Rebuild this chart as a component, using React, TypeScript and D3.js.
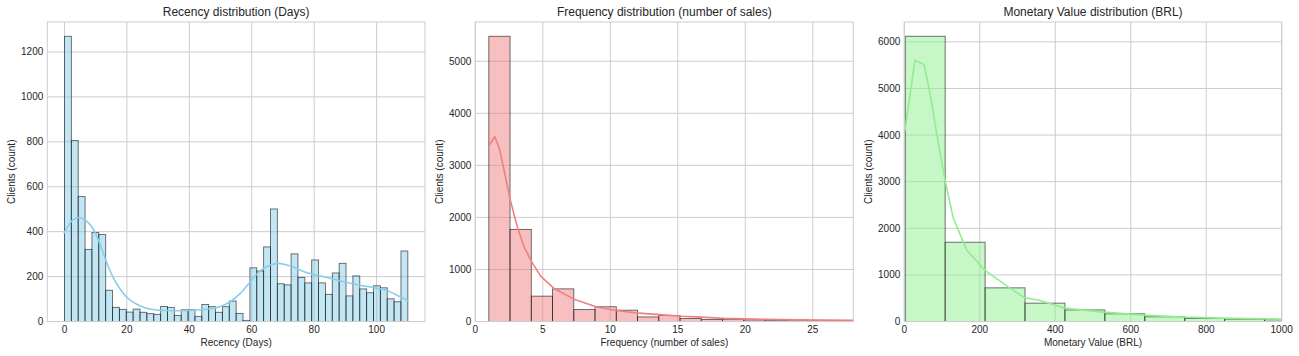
import React from "react";
import * as d3 from "d3";

// ---------- Data ----------
const recencyBinStart = 0;
const recencyBinWidth = 2.2;
const recencyCounts = [
  1270, 806, 556, 321, 396, 387, 139, 63, 54, 42,
  55, 41, 35, 32, 67, 63, 27, 52, 52, 23,
  76, 66, 41, 66, 91, 36, 5, 239, 225, 332,
  501, 168, 163, 301, 196, 172, 274, 172, 121, 216,
  259, 114, 203, 145, 128, 159, 150, 101, 88, 314,
];
const recencyKdeX = [-0.2, 2.1, 4.6, 7.0, 9.1, 11.3, 13.4, 15.5, 17.7, 19.8, 23.0, 26.3, 30.5, 35.9, 41.2, 46.6, 49.8, 53.1, 56.3, 59.5, 62.7, 65.9, 68.6, 72.3, 77.7, 83.1, 88.4, 93.8, 99.1, 103.4, 106.7, 110.2];
const recencyKdeY = [392, 444, 463, 448, 414, 348, 266, 199, 147, 110, 78, 59, 50, 48, 50, 57, 66, 88, 125, 177, 226, 252, 259, 247, 217, 199, 181, 164, 150, 137, 116, 91];

const freqBinStart = 1;
const freqBinWidth = 1.574;
const freqCounts = [5480, 1769, 487, 627, 230, 283, 217, 88, 115, 58, 38, 42, 30, 22, 28, 12, 18, 15];
const freqKdeX = [1.04, 1.44, 1.78, 2.13, 2.59, 3.11, 3.61, 4.18, 4.84, 5.83, 7.31, 9.0, 10.3, 12.1, 13.9, 15.3, 16.4, 18.4, 21.5, 23.8, 28.0];
const freqKdeY = [3390, 3550, 3327, 2910, 2333, 1819, 1435, 1146, 871, 635, 429, 280, 215, 160, 128, 102, 88, 60, 40, 31, 22];

const monBinStart = 2.5;
const monBinWidth = 105.8;
const monCounts = [6120, 1701, 722, 394, 248, 165, 101, 64, 51, 36];
const monKdeX = [1.9, 28.4, 52.2, 68.1, 85.8, 106, 129.8, 165.3, 212, 280, 318, 360, 424, 528, 634, 739, 843, 1000];
const monKdeY = [4107, 5607, 5515, 4894, 4037, 3107, 2215, 1536, 1108, 715, 514, 450, 287, 201, 136, 94, 73, 51];

const recencyXTicks = [0, 20, 40, 60, 80, 100];
const recencyYTicks = [0, 200, 400, 600, 800, 1000, 1200];
const freqXTicks = [0, 5, 10, 15, 20, 25];
const freqYTicks = [0, 1000, 2000, 3000, 4000, 5000];
const monXTicks = [0, 200, 400, 600, 800, 1000];
const monYTicks = [0, 1000, 2000, 3000, 4000, 5000, 6000];

const titles = [
  "Recency distribution (Days)",
  "Frequency distribution (number of sales)",
  "Monetary Value distribution (BRL)",
];
const xLabels = ["Recency (Days)", "Frequency (number of sales)", "Monetary Value (BRL)"];
const yLabel = "Clients (count)";

// ---------- Component ----------
const FONT = "'Liberation Sans', Arial, sans-serif";
const TEXT = "#262626";
const GRID = "#cccccc";

type PanelProps = {
  id: string;
  left: number;
  right: number;
  top: number;
  bottom: number;
  xDomain: [number, number];
  yMax: number;
  xTicks: number[];
  yTicks: number[];
  binStart: number;
  binWidth: number;
  counts: number[];
  kdeX: number[];
  kdeY: number[];
  fill: string;
  line: string;
  smooth: boolean;
  title: string;
  xLabel: string;
  yLabelX: number;
};

function Panel(p: PanelProps) {
  const x = d3.scaleLinear().domain(p.xDomain).range([p.left, p.right]);
  const y = d3.scaleLinear().domain([0, p.yMax]).range([p.bottom, p.top]);
  const pts: [number, number][] = p.kdeX.map((v, i) => [v, p.kdeY[i]]);
  const lineGen = d3
    .line<[number, number]>()
    .x((d) => x(d[0]))
    .y((d) => y(d[1]))
    .curve(p.smooth ? d3.curveMonotoneX : d3.curveLinear);
  const cx = (p.left + p.right) / 2;
  const cy = (p.top + p.bottom) / 2;
  return (
    <g>
      <defs>
        <clipPath id={p.id}>
          <rect x={p.left} y={p.top} width={p.right - p.left} height={p.bottom - p.top} />
        </clipPath>
      </defs>
      {p.xTicks.map((t) => (
        <line key={"gx" + t} x1={x(t)} x2={x(t)} y1={p.top} y2={p.bottom} stroke={GRID} strokeWidth={1} />
      ))}
      {p.yTicks.map((t) => (
        <line key={"gy" + t} x1={p.left} x2={p.right} y1={y(t)} y2={y(t)} stroke={GRID} strokeWidth={1} />
      ))}
      <g clipPath={`url(#${p.id})`}>
        {p.counts.map((c, i) => {
          const x0 = x(p.binStart + i * p.binWidth);
          const x1 = x(p.binStart + (i + 1) * p.binWidth);
          return (
            <rect
              key={i}
              x={x0}
              y={y(c)}
              width={x1 - x0}
              height={y(0) - y(c)}
              fill={p.fill}
              fillOpacity={0.5}
              stroke="#000"
              strokeOpacity={0.6}
              strokeWidth={0.9}
            />
          );
        })}
        <path d={lineGen(pts) || ""} fill="none" stroke={p.line} strokeWidth={1.6} strokeLinejoin="round" />
      </g>
      <rect x={p.left} y={p.top} width={p.right - p.left} height={p.bottom - p.top} fill="none" stroke={GRID} strokeWidth={1} />
      {p.xTicks.map((t) => (
        <text key={"tx" + t} x={x(t)} y={p.bottom + 11} fontSize={10} fill={TEXT} textAnchor="middle" fontFamily={FONT}>
          {t}
        </text>
      ))}
      {p.yTicks.map((t) => (
        <text key={"ty" + t} x={p.left - 4} y={y(t) + 3.5} fontSize={10} fill={TEXT} textAnchor="end" fontFamily={FONT}>
          {t}
        </text>
      ))}
      <text x={cx} y={16} fontSize={12} fill={TEXT} textAnchor="middle" fontFamily={FONT}>
        {p.title}
      </text>
      <text x={cx} y={346} fontSize={10} fill={TEXT} textAnchor="middle" fontFamily={FONT}>
        {p.xLabel}
      </text>
      <text
        x={p.yLabelX}
        y={cy}
        fontSize={10}
        fill={TEXT}
        textAnchor="middle"
        fontFamily={FONT}
        transform={`rotate(-90 ${p.yLabelX} ${cy})`}
      >
        {yLabel}
      </text>
    </g>
  );
}

export default function App() {
  const top = 22;
  const bottom = 321.5;
  return (
    <svg
      width={1299}
      height={356}
      style={{ position: "absolute", left: 0, top: 0, background: "#fff" }}
    >
      <rect x={0} y={0} width={1299} height={356} fill="#fff" />
      <Panel
        id="c1"
        left={47.3}
        right={425}
        top={top}
        bottom={bottom}
        xDomain={[-5.5, 115.5]}
        yMax={1333.5}
        xTicks={recencyXTicks}
        yTicks={recencyYTicks}
        binStart={recencyBinStart}
        binWidth={recencyBinWidth}
        counts={recencyCounts}
        kdeX={recencyKdeX}
        kdeY={recencyKdeY}
        fill="#87CEEB"
        line="#87CEEB"
        smooth={true}
        title={titles[0]}
        xLabel={xLabels[0]}
        yLabelX={14.5}
      />
      <Panel
        id="c2"
        left={475.3}
        right={853.3}
        top={top}
        bottom={bottom}
        xDomain={[0, 28]}
        yMax={5754}
        xTicks={freqXTicks}
        yTicks={freqYTicks}
        binStart={freqBinStart}
        binWidth={freqBinWidth}
        counts={freqCounts}
        kdeX={freqKdeX}
        kdeY={freqKdeY}
        fill="#F08080"
        line="#F08080"
        smooth={false}
        title={titles[1]}
        xLabel={xLabels[1]}
        yLabelX={443}
      />
      <Panel
        id="c3"
        left={904.3}
        right={1281.7}
        top={top}
        bottom={bottom}
        xDomain={[0, 1000]}
        yMax={6426}
        xTicks={monXTicks}
        yTicks={monYTicks}
        binStart={monBinStart}
        binWidth={monBinWidth}
        counts={monCounts}
        kdeX={monKdeX}
        kdeY={monKdeY}
        fill="#90EE90"
        line="#90EE90"
        smooth={false}
        title={titles[2]}
        xLabel={xLabels[2]}
        yLabelX={872}
      />
    </svg>
  );
}
